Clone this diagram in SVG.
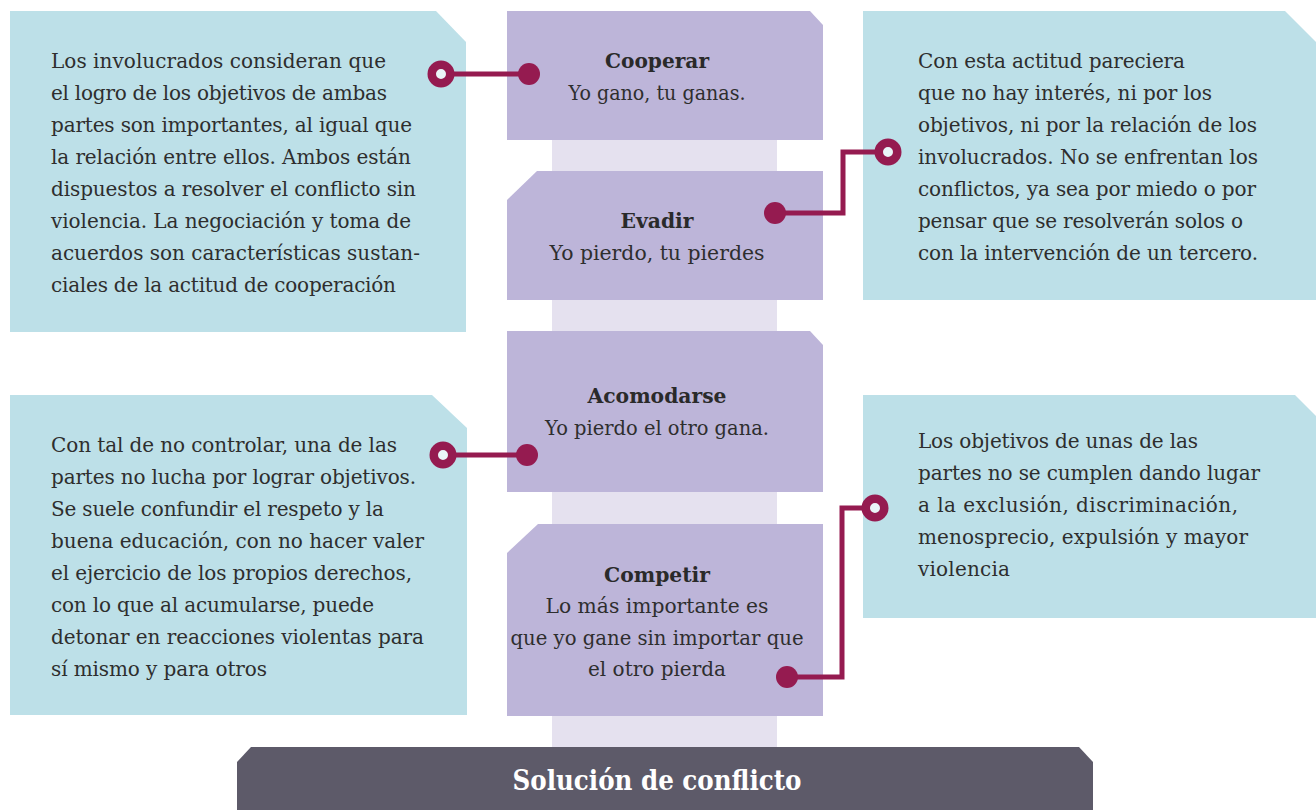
<svg xmlns="http://www.w3.org/2000/svg" width="1316" height="810" viewBox="0 0 1316 810">
<style>
.blue{fill:#bde0e8}
.lav{fill:#bdb5d9}
.body{font-family:"DejaVu Serif","Liberation Serif",serif;font-size:20px;fill:#2e2e2e}
.ctr{font-family:"DejaVu Serif","Liberation Serif",serif;font-size:20px;fill:#2e2e2e;text-anchor:middle}
.ttl{font-family:"DejaVu Serif","Liberation Serif",serif;font-size:20.5px;font-weight:bold;fill:#2a2a2a;text-anchor:middle}
.con{stroke:#951b50;stroke-width:5;fill:none}
.ring{stroke:#951b50;stroke-width:8.5;fill:#eaf5f8}
.dot{fill:#951b50}
</style>
<rect width="1316" height="810" fill="#ffffff"/>
<rect id="spine" x="552" y="130" width="225" height="620" fill="#e5e1ef"/>

<g id="desc-cooperar">
<polygon class="blue" points="10,11 436,11 466,42 466,332 10,332"/>
<text class="body" lengthAdjust="spacingAndGlyphs">
<tspan x="51" y="68" textLength="335">Los involucrados consideran que</tspan>
<tspan x="51" y="100" textLength="336">el logro de los objetivos de ambas</tspan>
<tspan x="51" y="132" textLength="361">partes son importantes, al igual que</tspan>
<tspan x="51" y="164" textLength="360">la relación entre ellos. Ambos están</tspan>
<tspan x="51" y="196" textLength="365">dispuestos a resolver el conflicto sin</tspan>
<tspan x="51" y="228" textLength="360">violencia. La negociación y toma de</tspan>
<tspan x="51" y="260" textLength="369">acuerdos son características sustan-</tspan>
<tspan x="51" y="292" textLength="345">ciales de la actitud de cooperación</tspan>
</text>
</g>

<g id="desc-evadir">
<polygon class="blue" points="863,11 1285,11 1316,42 1316,300 863,300"/>
<text class="body" lengthAdjust="spacingAndGlyphs">
<tspan x="918" y="68" textLength="267">Con esta actitud pareciera</tspan>
<tspan x="918" y="100" textLength="294">que no hay interés, ni por los</tspan>
<tspan x="918" y="132" textLength="339">objetivos, ni por la relación de los</tspan>
<tspan x="918" y="164" textLength="340">involucrados. No se enfrentan los</tspan>
<tspan x="918" y="196" textLength="338">conflictos, ya sea por miedo o por</tspan>
<tspan x="918" y="228" textLength="325">pensar que se resolverán solos o</tspan>
<tspan x="918" y="260" textLength="340">con la intervención de un tercero.</tspan>
</text>
</g>

<g id="desc-acomodarse">
<polygon class="blue" points="10,395 432,395 467,428 467,715 10,715"/>
<text class="body" lengthAdjust="spacingAndGlyphs">
<tspan x="51" y="452" textLength="346">Con tal de no controlar, una de las</tspan>
<tspan x="51" y="484" textLength="365">partes no lucha por lograr objetivos.</tspan>
<tspan x="51" y="516" textLength="333">Se suele confundir el respeto y la</tspan>
<tspan x="51" y="548" textLength="373">buena educación, con no hacer valer</tspan>
<tspan x="51" y="580" textLength="361">el ejercicio de los propios derechos,</tspan>
<tspan x="51" y="612" textLength="323">con lo que al acumularse, puede</tspan>
<tspan x="51" y="644" textLength="373">detonar en reacciones violentas para</tspan>
<tspan x="51" y="676" textLength="216">sí mismo y para otros</tspan>
</text>
</g>

<g id="desc-competir">
<polygon class="blue" points="863,395 1295,395 1316,416 1316,618 863,618"/>
<text class="body" lengthAdjust="spacingAndGlyphs">
<tspan x="918" y="448" textLength="280">Los objetivos de unas de las</tspan>
<tspan x="918" y="480" textLength="342">partes no se cumplen dando lugar</tspan>
<tspan x="918" y="512" textLength="320">a la exclusión, discriminación,</tspan>
<tspan x="918" y="544" textLength="330">menosprecio, expulsión y mayor</tspan>
<tspan x="918" y="576" textLength="92">violencia</tspan>
</text>
</g>

<g id="cooperar">
<polygon class="lav" points="507,11 810,11 823,25 823,140 507,140"/>
<text class="ttl" x="657" y="68" textLength="104" lengthAdjust="spacingAndGlyphs">Cooperar</text>
<text class="ctr" x="657" y="100" textLength="177" lengthAdjust="spacingAndGlyphs">Yo gano, tu ganas.</text>
</g>

<g id="evadir">
<polygon class="lav" points="537,171 823,171 823,300 507,300 507,200"/>
<text class="ttl" x="657" y="228" textLength="73" lengthAdjust="spacingAndGlyphs">Evadir</text>
<text class="ctr" x="657" y="260" textLength="215" lengthAdjust="spacingAndGlyphs">Yo pierdo, tu pierdes</text>
</g>

<g id="acomodarse">
<polygon class="lav" points="507,331 810,331 823,345 823,492 507,492"/>
<text class="ttl" x="657" y="403" textLength="139" lengthAdjust="spacingAndGlyphs">Acomodarse</text>
<text class="ctr" x="657" y="435" textLength="224" lengthAdjust="spacingAndGlyphs">Yo pierdo el otro gana.</text>
</g>

<g id="competir">
<polygon class="lav" points="538,524 823,524 823,716 507,716 507,553"/>
<text class="ttl" x="657" y="582" textLength="106" lengthAdjust="spacingAndGlyphs">Competir</text>
<text class="ctr" x="657" y="613" textLength="223" lengthAdjust="spacingAndGlyphs">Lo más importante es</text>
<text class="ctr" x="657" y="645" textLength="293" lengthAdjust="spacingAndGlyphs">que yo gane sin importar que</text>
<text class="ctr" x="657" y="676" textLength="138" lengthAdjust="spacingAndGlyphs">el otro pierda</text>
</g>

<g id="solucion">
<polygon fill="#5d5a69" points="251,747 1079,747 1093,762 1093,810 237,810 237,762"/>
<text x="657" y="790" text-anchor="middle" font-family="'DejaVu Serif','Liberation Serif',serif" font-size="28" font-weight="bold" fill="#ffffff" textLength="289" lengthAdjust="spacingAndGlyphs">Solución de conflicto</text>
</g>

<g id="connectors">
<line class="con" x1="441" y1="74" x2="529" y2="74"/>
<circle class="ring" cx="441" cy="74" r="9.25"/>
<circle class="dot" cx="529" cy="74" r="11"/>

<path class="con" d="M775,213 H843 V152 H888"/>
<circle class="ring" cx="888" cy="152" r="9.25"/>
<circle class="dot" cx="775" cy="213" r="11"/>

<line class="con" x1="443" y1="455" x2="527" y2="455"/>
<circle class="ring" cx="443" cy="455" r="9.25"/>
<circle class="dot" cx="527" cy="455" r="11"/>

<path class="con" d="M787,677 H842 V508 H875"/>
<circle class="ring" cx="875" cy="508" r="9.25"/>
<circle class="dot" cx="787" cy="677" r="11"/>
</g>
</svg>
